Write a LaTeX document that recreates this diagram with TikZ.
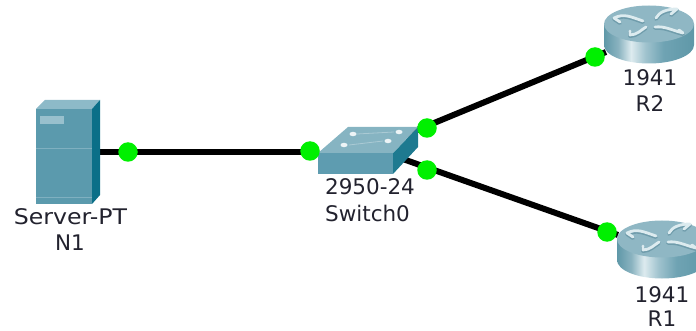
\documentclass[tikz,border=0pt]{standalone}
\usepackage{fontspec}
\setmainfont{DejaVu Sans}
\newfontfamily\widerfont[FakeStretch=1.1]{DejaVu Sans}
\definecolor{txt}{HTML}{22222E}
\definecolor{dotg}{HTML}{00F000}
\definecolor{srvf}{HTML}{5B9AAD}
\definecolor{srvt}{HTML}{8DBAC8}
\definecolor{srvr}{HTML}{0B6F88}
\definecolor{srvl}{HTML}{7FB0C0}
\definecolor{swt}{HTML}{86B4C2}
\definecolor{swf}{HTML}{5E9CB0}
\definecolor{swr}{HTML}{1E7A90}
\definecolor{rtop}{HTML}{8FB7C4}
\definecolor{rmark}{HTML}{DCEBEF}
\definecolor{rshadow}{HTML}{6F9CAB}
\definecolor{cyla}{HTML}{5F98A8}
\definecolor{cylb}{HTML}{8AB3C0}
\definecolor{cylc}{HTML}{DDEBEF}
\definecolor{cyld}{HTML}{A0C3CE}
\definecolor{cyle}{HTML}{6FA3B3}
\pgfdeclarehorizontalshading{cyl}{100bp}{
  color(0bp)=(cyla);
  color(25bp)=(cyla);
  color(33bp)=(cylb);
  color(40bp)=(cylc);
  color(48bp)=(cyld);
  color(58bp)=(cyle);
  color(75bp)=(cyla);
  color(100bp)=(cyla)}
\tikzset{
  lbl/.style={font=\fontsize{21.5}{24}\selectfont, text=txt, inner sep=0pt},
  link/.style={line width=6pt, black},
  port/.style={circle, fill=dotg, draw=none, minimum size=19.5pt, inner sep=0pt},
  rsh/.style={line width=3.6pt, rshadow, line cap=round, line join=round},
  rmk/.style={line width=2.8pt, rmark, line cap=round, line join=round},
  pics/router/.style={code={
    \shade[shading=cyl] (-45,0) -- (-45,21) arc[start angle=180,end angle=0,x radius=45,y radius=18.5] -- (45,0) -- cycle;
    \fill[rtop] (0,0) ellipse[x radius=45,y radius=18.5];
    \foreach \st/\oy in {rsh/1.2,rmk/0}{
    \begin{scope}[yshift=-\oy pt]
    \draw[\st] (-29,-2) -- (-35,-6) .. controls (-25,-11) and (-18,-7) .. (-6,-3);
    \draw[\st] (22,-10) -- (28,-15) .. controls (18,-15) and (10,-12) .. (7,-6);
    \draw[\st] (30,6) -- (34,9) .. controls (22,6) and (16,2) .. (6,3);
    \draw[\st] (-19,7) -- (-19,11) .. controls (-12,11) and (-8,6) .. (-3,3);
    \end{scope}}
  }}
}
\begin{document}
\begin{tikzpicture}[x=1pt,y=-1pt]
\useasboundingbox (0,0) rectangle (696,331);
\clip (0,0) rectangle (696,331);
\coordinate (srvport) at (98,152);
\coordinate (swl) at (318,152);
\coordinate (swa) at (405,135);
\coordinate (swb) at (400,158);
\coordinate (r2port) at (606,52);
\coordinate (r1port) at (618,235);
% links
\draw[link] (srvport) -- (swl);
\draw[link] (swa) -- (r2port);
\draw[link] (swb) -- (r1port);
% server
\fill[srvf] (36,109) rectangle (92,204);
\fill[srvt] (36,109) -- (45,100) -- (100,100) -- (92,109) -- cycle;
\fill[srvr] (92,109) -- (100,100) -- (100,195) -- (92,204) -- cycle;
\fill[srvl] (36,148) rectangle (92,149.5);
\fill[srvl] (36,197) rectangle (92,198.5);
\fill[srvl!80!white] (40,116) rectangle (64,124);
% switch
\fill[swf] (318,153) -- (393,153) -- (393,174) -- (318,174) -- cycle;
\fill[swr] (393,153) -- (418,127) -- (418,147) -- (393,174) -- cycle;
\fill[swt] (318,153) -- (348,127) -- (418,127) -- (393,153) -- cycle;
\foreach \p in {(353,134),(399,132),(344,145),(388,141)}
  \fill[white!85!swt] \p ellipse[x radius=3.5,y radius=2.2];
\draw[swt!70!white, line width=.8pt] (357,134) -- (394,132) (349,145) -- (383,141);
% routers
\pic at (649,24) {router};
\pic at (662,239) {router};
% ports
\node[port] (p1) at (128,152) {};
\node[port] (p2) at (310,151) {};
\node[port] (p3) at (427,128) {};
\node[port] (p4) at (427,170) {};
\node[port] (p5) at (595,57) {};
\node[port] (p6) at (607,232) {};
% labels
\node[lbl, font=\fontsize{21.5}{24}\widerfont] (l1) at (70.5,217) {Server-PT};
\node[lbl] (l2) at (70,243) {N1};
\node[lbl] (l3) at (370,187) {2950-24};
\node[lbl] (l4) at (367.5,213) {Switch0};
\node[lbl] (l5) at (650,78) {1941};
\node[lbl] (l6) at (650,104) {R2};
\node[lbl] (l7) at (662,295) {1941};
\node[lbl] (l8) at (662,319) {R1};
\end{tikzpicture}
\end{document}
